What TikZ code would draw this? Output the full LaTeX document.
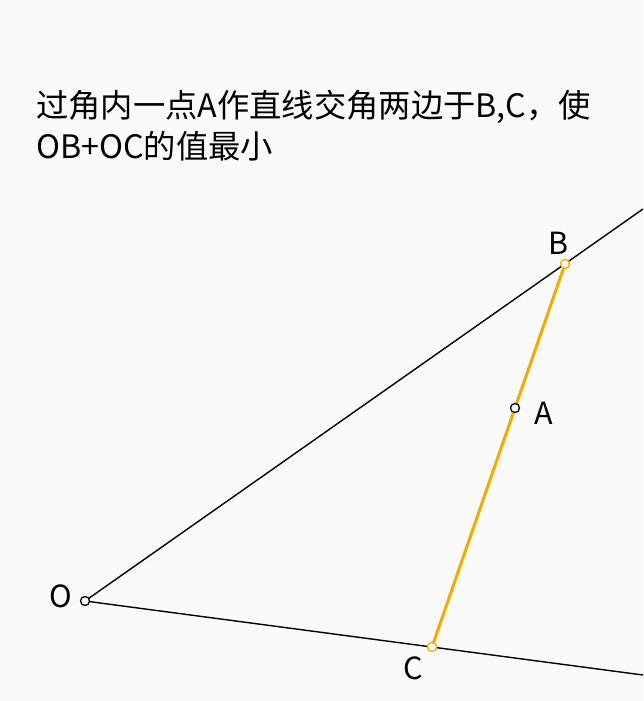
\documentclass[tikz,border=0pt]{standalone}
\usepackage{fontspec}
\usepackage{xcolor}
\usepackage{tikz}
\usetikzlibrary{positioning}
\newfontfamily\cjk{Noto Sans CJK SC}
\definecolor{bgcol}{RGB}{250, 250, 250}
\definecolor{orange}{RGB}{245, 170, 0}
\tikzstyle{pt} = [circle, draw=black, line width=1.3pt, fill=white, inner sep=0pt, minimum size = 9pt]
\tikzstyle{opt} = [circle, draw=orange, line width=1.3pt, fill=white, inner sep=0pt, minimum size = 9pt]
\tikzstyle{textonly} = [draw=none, fill=none, inner sep=0pt, font=\cjk\fontsize{30.5}{36}\selectfont]
\tikzstyle{title} = [draw=none, fill=none, inner sep=0pt, anchor=base west, font=\cjk\fontsize{32.3}{38}\selectfont]
\tikzstyle{ray} = [draw, black, line width=1.4pt]
\tikzstyle{seg} = [draw, orange, line width=3pt]

\begin{document}
\begin{tikzpicture}[x=1pt, y=-1pt]

\fill[bgcol] (0,0) rectangle (643,701);
\useasboundingbox (0,0) rectangle (643,701);

% title =============================
\node[title] (t1) at (36,117) {过角内一点A作直线交角两边于B,C，使};
\node[title] (t2) at (36,158) {OB+OC的值最小};

% points
\coordinate (Oc) at (85,601);
\coordinate (Bc) at (565,264);
\coordinate (Ac) at (515,408);
\coordinate (Cc) at (432,647);
\coordinate (Bend) at (643,209);
\coordinate (Cend) at (643,675);

% rays
\path[ray] (Oc) -- (Bend);
\path[ray] (Oc) -- (Cend);

% segment through A
\path[seg] (Bc) -- (Cc);

\node[pt] (O) at (Oc) {};
\node[pt] (A) at (Ac) {};
\node[opt] (B) at (Bc) {};
\node[opt] (C) at (Cc) {};

%labels
\node[textonly, left=8pt of O, yshift=5pt] (lO) {O};
\node[textonly, right=14pt of A, yshift=-5pt] (lA) {A};
\node[textonly, above left=6pt and -7pt of B] (lB) {B};
\node[textonly, below left=6pt and 5pt of C] (lC) {C};

\end{tikzpicture}
\end{document}
